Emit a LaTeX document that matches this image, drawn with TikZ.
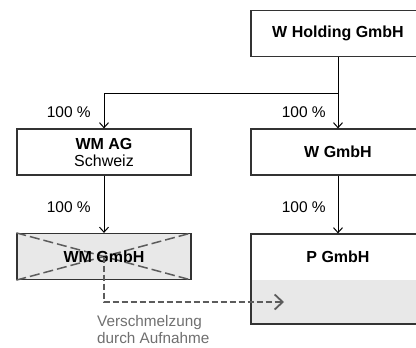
\documentclass[tikz,border=0pt]{standalone}
\usepackage{fontspec}
\setmainfont{Liberation Sans}
\usetikzlibrary{arrows.meta}
\definecolor{boxgray}{HTML}{E8E8E8}
\definecolor{edgegray}{HTML}{333333}
\definecolor{mergegray}{HTML}{5C5C5C}
\definecolor{textgray}{HTML}{707070}
\tikzset{
  orgbox/.style={draw=edgegray, line width=1.2pt, minimum width=174pt, minimum height=46pt, inner sep=0pt, align=center, font=\fontsize{16}{18}\selectfont},
  conn/.style={draw=black, line width=1pt},
  arr/.style={conn, -{Straight Barb[length=5pt,width=9pt,line width=1pt]}},
  pct/.style={anchor=east, inner sep=0pt, font=\fontsize{15.5}{18}\selectfont},
  cross/.style={draw=mergegray, line width=1.5pt, dash pattern=on 10pt off 4pt},
  merge/.style={draw=mergegray, line width=2.2pt, dash pattern=on 6pt off 3pt, -{Straight Barb[length=8pt,width=15pt,line width=1.8pt]}},
}
\begin{document}
\begin{tikzpicture}[x=1pt,y=-1pt]
\useasboundingbox (0,0) rectangle (416,348);
\fill[white] (0,0) rectangle (416,348);
\begin{scope}
\clip (0,0) rectangle (416,348);
\node[orgbox] (hold) at (338,33.5) {\textbf{W Holding GmbH}};
\node[orgbox] (wmag) at (104,152) {\textbf{WM AG}\\[-1pt]Schweiz};
\node[orgbox] (wg) at (338,152) {\textbf{W GmbH}};
\node[orgbox, fill=boxgray] (wmg) at (104,256.5) {};
\node[orgbox, minimum height=90pt, path picture={\fill[boxgray] ([yshift=-1pt]path picture bounding box.west) rectangle (path picture bounding box.south east);}] (pg) at (338,279) {};
\node[inner sep=0pt, font=\fontsize{16}{18}\selectfont] (pglabel) at ([yshift=-23pt]pg.north) {\textbf{P GmbH}};
\draw[cross] (wmg.north west) -- (wmg.south east);
\draw[cross] (wmg.south west) -- (wmg.north east);
\node[inner sep=0pt, font=\fontsize{16}{18}\selectfont] (wmglabel) at (wmg.center) {\textbf{WM GmbH}};
\coordinate (split) at (338,93);
\coordinate (leftc) at (104,93);
\draw[conn] (hold.south) -- (split);
\draw[arr] (split) -- (wg.north);
\draw[arr] (split) -- (leftc) -- (wmag.north);
\draw[arr] (wmag.south) -- (wmg.north);
\draw[arr] (wg.south) -- (pg.north);
\node[pct] (p1) at (91,112) {100 \%};
\node[pct] (p2) at (326,112) {100 \%};
\node[pct] (p3) at (91,207) {100 \%};
\node[pct] (p4) at (326,207) {100 \%};
\draw[edgegray, line width=1.2pt] (pg.north west) -- (pg.south west);
\coordinate (mbend) at (104,302);
\coordinate (mend) at (284,302);
\draw[merge] (wmg.center) -- (mbend) -- (mend);
\node[anchor=north west, inner sep=0pt, align=left, text=textgray, font=\fontsize{15.3}{17}\selectfont] (mlabel) at (97,315) {Verschmelzung\\durch Aufnahme};
\end{scope}
\end{tikzpicture}
\end{document}
